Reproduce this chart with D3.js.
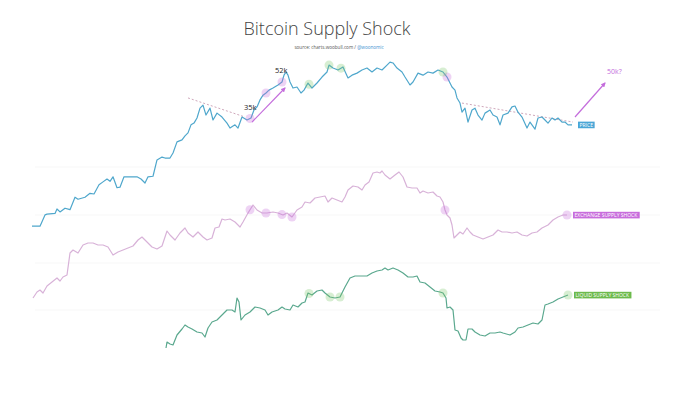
<!DOCTYPE html>
<html>
<head>
<meta charset="utf-8">
<script src="https://cdn.jsdelivr.net/npm/d3@7"></script>
<style>
  html, body { margin: 0; padding: 0; background: #fff; }
  svg { display: block; font-family: 'Open Sans', sans-serif; }
</style>
</head>
<body>
<svg id="chart" width="700" height="397"></svg>
<script>
// [day, price in $k]
const priceData = [[0,13.8],[8,13.8],[13,15.2],[15,15.3],[23,15.4],[25,16.0],[28,15.6],[33,16.1],[38,15.9],[43,17.7],[46,17.4],[53,17.7],[58,18.3],[62,18.2],[67,19.7],[71,20.2],[75,20.7],[78,20.3],[81,21.1],[85,19.2],[88,19.3],[92,21.1],[98,21.1],[105,21.1],[109,20.7],[113,20.0],[116,21.1],[121,21.2],[125,24.4],[130,25.0],[133,24.8],[138,24.8],[141,25.9],[145,28.5],[150,29.0],[153,30.0],[156,30.8],[159,33.0],[162,33.5],[165,35.0],[168,38.1],[171,39.1],[174,35.9],[178,38.1],[181,34.4],[185,36.5],[190,35.3],[195,33.5],[198,32.1],[203,33.0],[206,32.1],[210,35.3],[215,34.4],[219,35.0],[222,37.5],[225,38.5],[228,40.9],[231,42.6],[234,43.4],[237,44.5],[241,45.3],[246,46.5],[250,47.7],[252,50.6],[254,52.0],[256,50.6],[258,47.7],[261,45.3],[265,45.7],[269,43.4],[272,44.5],[276,47.3],[280,45.3],[285,47.3],[290,49.8],[295,52.0],[297,55.2],[301,53.8],[306,52.9],[311,54.3],[316,49.4],[320,50.6],[325,51.5],[330,52.9],[335,53.8],[340,52.0],[345,53.8],[350,52.9],[355,55.2],[358,56.6],[361,56.2],[365,53.8],[370,52.0],[373,49.8],[378,46.5],[381,47.7],[386,51.5],[391,50.6],[396,52.0],[401,51.5],[406,52.9],[411,52.0],[415,49.8],[420,45.7],[423,44.5],[425,41.6],[428,39.8],[430,36.8],[433,38.1],[436,33.8],[440,37.5],[443,38.1],[446,35.9],[450,34.4],[453,36.5],[458,37.5],[461,35.9],[465,35.3],[468,33.0],[471,35.9],[476,36.5],[480,38.5],[483,38.8],[486,36.8],[490,35.3],[495,32.1],[498,33.8],[503,31.8],[506,35.0],[510,35.3],[513,34.4],[516,33.5],[520,35.0],[523,34.4],[526,35.0],[530,33.8],[533,33.8],[536,33.0],[540,33.0]];

// [day, exchange supply shock ratio]
const exchangeData = [[1,0.2],[5,0.8],[8,1.0],[11,0.7],[15,1.4],[20,1.8],[25,2.2],[28,1.9],[31,2.3],[35,2.5],[38,4.7],[41,5.0],[46,4.7],[51,5.5],[56,5.7],[61,5.7],[66,5.5],[71,5.5],[76,5.3],[81,4.5],[86,4.8],[91,5.0],[96,5.2],[101,5.4],[106,6.0],[110,6.3],[115,5.8],[120,5.3],[125,5.1],[130,5.4],[135,6.9],[138,6.5],[143,6.0],[148,6.7],[153,7.2],[156,6.7],[161,6.3],[166,6.8],[171,6.3],[175,6.0],[180,6.2],[183,7.2],[187,7.3],[190,8.1],[193,8.0],[198,8.1],[203,7.8],[208,7.3],[211,7.8],[216,8.7],[221,9.5],[225,9.0],[230,8.7],[235,8.7],[241,8.8],[246,8.7],[251,8.5],[255,8.7],[260,8.3],[265,9.0],[270,9.3],[273,9.8],[278,9.7],[283,10.2],[288,10.3],[293,10.4],[296,9.8],[300,10.2],[305,10.0],[310,9.8],[313,10.3],[316,11.0],[321,11.4],[326,11.3],[330,11.0],[333,11.5],[337,11.8],[341,12.7],[345,12.8],[348,12.7],[350,12.9],[353,12.5],[358,12.1],[363,12.5],[367,12.8],[371,12.3],[375,11.3],[380,11.2],[385,11.2],[388,10.7],[391,10.9],[396,10.7],[401,10.8],[405,10.4],[408,10.3],[411,9.8],[413,9.0],[415,8.5],[418,8.2],[420,7.5],[422,6.2],[425,6.5],[428,6.8],[431,6.6],[435,7.2],[438,6.8],[441,6.5],[446,6.3],[451,6.1],[456,6.3],[461,6.5],[466,7.0],[470,6.8],[475,6.8],[480,6.7],[485,6.8],[490,6.5],[495,6.4],[500,6.7],[505,6.8],[510,7.2],[516,7.5],[521,8.0],[526,8.3],[531,8.5],[535,8.5]];

// [day, liquid supply shock ratio]
const liquidData = [[134,0.2],[135,0.8],[138,0.6],[141,0.5],[145,1.5],[150,2.1],[153,2.5],[156,2.3],[160,2.1],[165,1.8],[170,1.7],[173,1.3],[176,2.2],[180,2.8],[185,3.0],[190,3.5],[195,4.0],[200,4.0],[203,3.8],[205,5.2],[207,4.8],[209,3.0],[213,3.5],[218,3.8],[223,4.3],[228,4.2],[233,4.0],[236,3.5],[240,3.8],[246,4.0],[250,4.3],[253,4.1],[258,4.0],[261,4.5],[266,4.3],[270,4.7],[273,4.8],[276,5.7],[280,5.5],[285,5.9],[290,6.0],[293,5.7],[298,5.3],[303,5.2],[308,5.3],[313,6.3],[318,7.2],[323,7.4],[330,7.4],[335,7.4],[340,7.7],[345,7.9],[350,8.0],[353,8.2],[356,8.0],[361,8.2],[366,8.0],[371,7.7],[376,7.3],[381,7.3],[385,7.4],[388,6.8],[393,6.7],[398,6.3],[403,5.9],[408,5.8],[411,5.7],[414,5.2],[415,4.2],[418,4.3],[421,4.0],[423,2.0],[426,1.9],[429,1.2],[431,1.0],[434,1.0],[436,2.1],[440,2.1],[443,1.8],[448,1.5],[453,1.4],[458,1.7],[463,1.7],[468,1.8],[471,1.7],[478,1.5],[483,1.8],[486,2.2],[491,2.3],[496,2.5],[501,2.7],[506,2.6],[510,3.0],[513,4.5],[516,4.6],[521,4.8],[526,5.1],[531,5.3],[536,5.5]];

// signal days
const exchangeSignals = [218, 234, 250, 260, 413, 535];
const liquidSignals = [277, 298, 308, 411, 536];
const priceExchangeSignals = [218, 234, 250, 415];
const priceLiquidSignals = [277, 297, 309, 411];

// annotations: [day, price]
const trendLines = [[[156, 41.6], [213, 35.3]], [[430, 39.8], [541, 33.8]]];
const arrows = [[[220, 33.8], [253, 45.3]], [[543, 35.3], [573, 47.3]]];
const priceNotes = [{ day: 212, price: 37.4, text: '35k' }, { day: 243, price: 51.6, text: '52k' }];
const targetNote = { day: 575, price: 51.2, text: '50k?' };

const title = 'Bitcoin Supply Shock';
const sourceText = 'source: charts.woobull.com / ';
const sourceHandle = '@woonomic';
const seriesLabels = ['PRICE', 'EXCHANGE SUPPLY SHOCK', 'LIQUID SUPPLY SHOCK'];

const colors = {
  price: '#4fa7cc', exchange: '#d8b2d8', liquid: '#5aa88e',
  priceTag: '#4aa6d6', exchangeTag: '#c86ddc', liquidTag: '#6cba4c',
  purple: '#c46ddc', trend: '#cfa7bb'
};

const svg = d3.select('#chart');

const x = d3.scaleLinear().domain([0, 540]).range([32, 572]);
const yPrice = d3.scaleLog().domain([35, 52]).range([118, 72]);
const yExchange = d3.scaleLinear().domain([0, 10]).range([300, 200]);
const yLiquid = d3.scaleLinear().domain([0, 10]).range([350, 250]);

// faint grid
svg.append('g')
  .selectAll('line')
  .data([167, 215, 263, 310])
  .join('line')
  .attr('x1', 35).attr('x2', 660)
  .attr('y1', d => d).attr('y2', d => d)
  .attr('stroke', '#f7f7f7').attr('stroke-width', 1);

svg.append('text')
  .attr('x', 327).attr('y', 35)
  .attr('text-anchor', 'middle')
  .attr('font-size', 18)
  .attr('fill', '#444')
  .attr('font-weight', 300)
  .text(title);

const src = svg.append('text')
  .attr('x', 339).attr('y', 48.5)
  .attr('text-anchor', 'middle')
  .attr('font-size', 4.6)
  .attr('fill', '#555');
src.append('tspan').text(sourceText);
src.append('tspan').attr('fill', '#3d8fd0').text(sourceHandle);

function valueAt(data, day) {
  const i = d3.bisector(d => d[0]).left(data, day);
  if (i <= 0) return data[0][1];
  if (i >= data.length) return data[data.length - 1][1];
  const a = data[i - 1], b = data[i];
  const t = (day - a[0]) / (b[0] - a[0]);
  return a[1] + (b[1] - a[1]) * t;
}

function drawSeries(data, yScale, color) {
  const line = d3.line()
    .x(d => x(d[0]))
    .y(d => yScale(d[1]));
  svg.append('path')
    .datum(data)
    .attr('fill', 'none')
    .attr('stroke', color)
    .attr('stroke-width', 1.2)
    .attr('stroke-linejoin', 'round')
    .attr('d', line);
}

function drawSignals(days, data, yScale, color) {
  svg.append('g')
    .selectAll('circle')
    .data(days)
    .join('circle')
    .attr('cx', d => x(d))
    .attr('cy', d => yScale(valueAt(data, d)))
    .attr('r', 4.5)
    .attr('fill', color)
    .attr('fill-opacity', 0.3);
}

function drawTag(text, data, yScale, color) {
  const last = data[data.length - 1];
  const tx = x(last[0]) + 6, ty = yScale(last[1]);
  const g = svg.append('g');
  const label = g.append('text')
    .attr('x', tx + 1.5).attr('y', ty + 1.8)
    .attr('font-size', 5)
    .attr('fill', '#fff')
    .text(text);
  const bb = label.node().getBBox();
  g.insert('rect', 'text')
    .attr('x', tx).attr('y', ty - 3.2)
    .attr('width', bb.width + 3).attr('height', 6.6)
    .attr('fill', color);
}

// trend lines
svg.append('g')
  .selectAll('line')
  .data(trendLines)
  .join('line')
  .attr('x1', d => x(d[0][0])).attr('y1', d => yPrice(d[0][1]))
  .attr('x2', d => x(d[1][0])).attr('y2', d => yPrice(d[1][1]))
  .attr('stroke', colors.trend)
  .attr('stroke-width', 1)
  .attr('stroke-dasharray', '2,2');

drawSeries(exchangeData, yExchange, colors.exchange);
drawSeries(liquidData, yLiquid, colors.liquid);
drawSeries(priceData, yPrice, colors.price);

drawSignals(exchangeSignals, exchangeData, yExchange, '#c86ddc');
drawSignals(liquidSignals, liquidData, yLiquid, '#7cc86a');
drawSignals(priceExchangeSignals, priceData, yPrice, '#c86ddc');
drawSignals(priceLiquidSignals, priceData, yPrice, '#7cc86a');

// arrows
svg.append('defs').append('marker')
  .attr('id', 'head')
  .attr('viewBox', '0 0 10 10')
  .attr('refX', 8).attr('refY', 5)
  .attr('markerWidth', 4).attr('markerHeight', 4)
  .attr('orient', 'auto')
  .append('path')
  .attr('d', 'M0,0L10,5L0,10Z')
  .attr('fill', colors.purple);

svg.append('g')
  .selectAll('line')
  .data(arrows)
  .join('line')
  .attr('x1', d => x(d[0][0])).attr('y1', d => yPrice(d[0][1]))
  .attr('x2', d => x(d[1][0])).attr('y2', d => yPrice(d[1][1]))
  .attr('stroke', colors.purple)
  .attr('stroke-width', 1.2)
  .attr('marker-end', 'url(#head)');

svg.append('g')
  .selectAll('text')
  .data(priceNotes)
  .join('text')
  .attr('x', d => x(d.day)).attr('y', d => yPrice(d.price))
  .attr('font-size', 7.5)
  .attr('fill', '#222')
  .text(d => d.text);

svg.append('text')
  .attr('x', x(targetNote.day)).attr('y', yPrice(targetNote.price))
  .attr('font-size', 7)
  .attr('fill', colors.purple)
  .text(targetNote.text);

drawTag(seriesLabels[0], priceData, yPrice, colors.priceTag);
drawTag(seriesLabels[1], exchangeData, yExchange, colors.exchangeTag);
drawTag(seriesLabels[2], liquidData, yLiquid, colors.liquidTag);
</script>
</body>
</html>
